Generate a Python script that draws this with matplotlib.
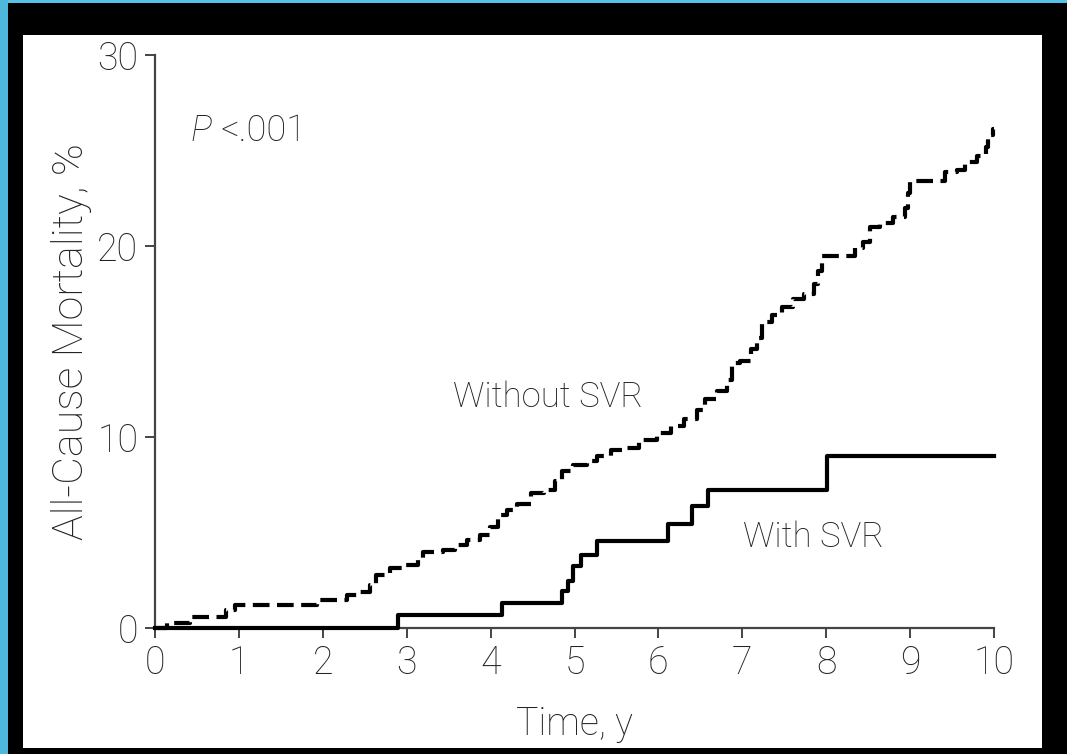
import matplotlib
matplotlib.use("Agg")
import matplotlib.pyplot as plt
from matplotlib.patches import Rectangle

# ---- data ----
t_without = [0, 0.14, 0.42, 0.85, 0.95, 1.93, 2.29, 2.44, 2.56, 2.64, 2.8, 2.96, 3.13, 3.19,
             3.43, 3.58, 3.72, 3.87, 3.99, 4.09, 4.19, 4.31, 4.48, 4.64, 4.77, 4.85, 4.98,
             5.15, 5.27, 5.44, 5.61, 5.77, 5.98, 6.15, 6.3, 6.46, 6.55, 6.7, 6.82, 6.88,
             6.97, 7.1, 7.17, 7.23, 7.35, 7.47, 7.6, 7.73, 7.85, 7.9, 7.95, 8.34, 8.44,
             8.52, 8.64, 8.8, 8.94, 8.98, 9.0, 9.42, 9.56, 9.65, 9.8, 9.9, 9.93, 9.99, 10.0]
y_without = [0, 0.26, 0.58, 0.94, 1.2, 1.47, 1.72, 1.9, 2.25, 2.8, 3.13, 3.3, 3.56, 4.0,
             4.08, 4.35, 4.6, 4.87, 5.3, 5.9, 6.2, 6.5, 7.07, 7.24, 7.68, 8.2, 8.55,
             8.73, 8.99, 9.34, 9.42, 9.86, 10.2, 10.6, 10.95, 11.4, 12.0, 12.4, 13.0, 13.9,
             14.0, 14.6, 15.2, 16.0, 16.4, 16.8, 17.2, 17.5, 18.0, 18.7, 19.5, 19.9, 20.2,
             21.0, 21.2, 21.5, 22.0, 22.8, 23.4, 23.9, 24.0, 24.4, 24.7, 25.2, 25.8, 26.1, 26.1]

t_with = [0, 2.9, 4.13, 4.85, 4.92, 4.98, 5.08, 5.27, 6.11, 6.40, 6.59, 8.01, 10.0]
y_with = [0, 0.68, 1.3, 1.92, 2.44, 3.23, 3.84, 4.54, 5.44, 6.37, 7.24, 9.0, 9.0]

x_ticks = [0, 1, 2, 3, 4, 5, 6, 7, 8, 9, 10]
y_ticks = [0, 10, 20, 30]

W, H = 1067, 754
fig = plt.figure(figsize=(W / 100, H / 100), dpi=100, facecolor="black")

# light-blue frame at top and left
fig.patches.append(Rectangle((0, 1 - 3 / H), 1, 3 / H, transform=fig.transFigure,
                             facecolor="#56c3e6", edgecolor="none", zorder=-10))
fig.patches.append(Rectangle((0, 0), 8 / W, 1, transform=fig.transFigure,
                             facecolor="#4fb6dc", edgecolor="none", zorder=-10))
# white panel
fig.patches.append(Rectangle((23 / W, 6 / H), 1019 / W, 713 / H, transform=fig.transFigure,
                             facecolor="white", edgecolor="none", zorder=-10))

plt.rcParams['font.family'] = ['Roboto', 'DejaVu Sans']
txt_color = "#222222"
fs = 26

ax = fig.add_axes([155 / W, (H - 628) / H, 839 / W, 573 / H])
ax.set_zorder(5)
ax.set_facecolor("none")

ax.plot(t_without, y_without, drawstyle="steps-post", color="black", lw=3.0,
        linestyle=(0, (4.0, 1.8)), clip_on=False, zorder=3)
ax.plot(t_with, y_with, drawstyle="steps-post", color="black", lw=3.0,
        clip_on=False, zorder=3)

ax.set_xlim(0, 10)
ax.set_ylim(0, 30)
ax.set_xticks(x_ticks)
ax.set_yticks(y_ticks)
ax.set_xticklabels([str(v) for v in x_ticks], fontsize=27, color=txt_color, fontweight="light")
ax.set_yticklabels([str(v) for v in y_ticks], fontsize=27, color=txt_color, fontweight="light")

for s in ["top", "right"]:
    ax.spines[s].set_visible(False)
for s in ["left", "bottom"]:
    ax.spines[s].set_color("#444444")
    ax.spines[s].set_linewidth(1.6)
ax.tick_params(direction="out", length=7, width=1.4, color="#444444", pad=5)

ax.set_xlabel("Time, y", fontsize=27, color=txt_color, fontweight="light", labelpad=17)
ax.set_ylabel("All-Cause Mortality, %", fontsize=31, color=txt_color, fontweight="light",
              labelpad=4)

ax.text(0.42, 26.0, "P", fontsize=fs, color=txt_color, fontstyle="italic",
        fontweight="light", va="center", ha="left")
ax.text(0.78, 26.0, "<.001", fontsize=fs, color=txt_color, fontweight="light",
        va="center", ha="left")
ax.text(4.69, 12.1, "Without SVR", fontsize=25, color=txt_color, fontweight="light",
        va="center", ha="center")
ax.text(7.85, 4.76, "With SVR", fontsize=25, color=txt_color, fontweight="light",
        va="center", ha="center")

fig.savefig("out.png", dpi=100, facecolor=fig.get_facecolor())
